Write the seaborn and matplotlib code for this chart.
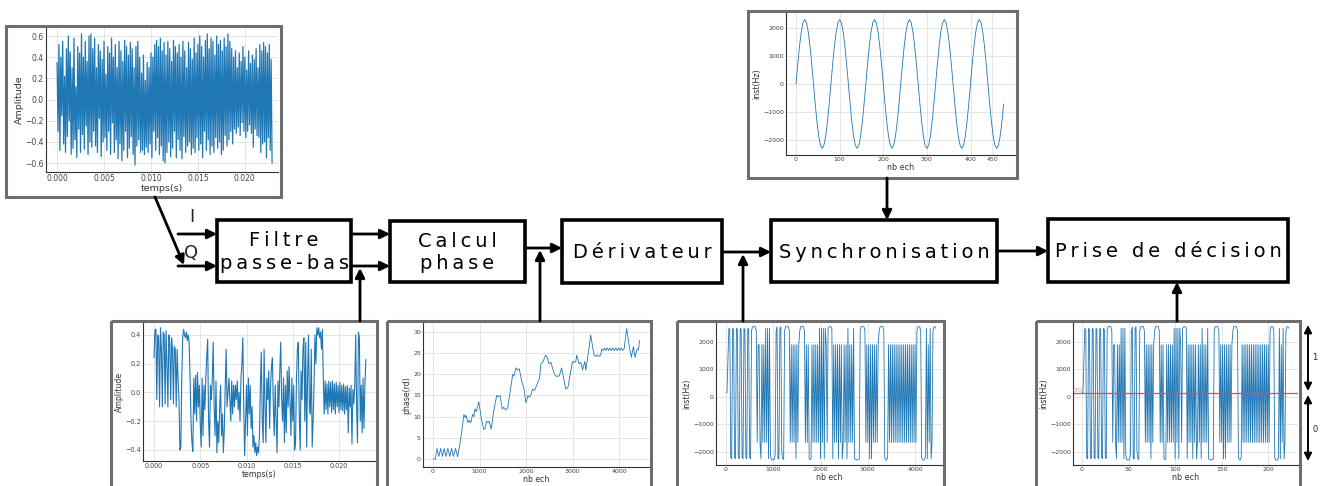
import numpy as np
import pandas as pd
import seaborn as sns
import matplotlib.pyplot as plt
from matplotlib.patches import Rectangle

# Chaine de demodulation : valeurs

# signal I/Q en entree (pas de 1e-4 s)
iq_raw = [
    0.35, -0.30, 0.52, -0.48, 0.40, -0.15, 0.55, -0.42, 0.22, -0.50,
    0.48, -0.35, 0.60, -0.20, 0.45, -0.52, 0.30, -0.46, 0.58, -0.38,
    0.12, -0.55, 0.50, -0.28, 0.44, -0.50, 0.62, -0.33, 0.40, -0.47,
    0.55, -0.25, 0.36, -0.52, 0.60, -0.40, 0.62, -0.45, 0.48, -0.30,
    0.58, -0.44, 0.30, -0.50, 0.52, -0.18, 0.46, -0.54, 0.38, -0.40,
    0.55, -0.36, 0.24, -0.48, 0.50, -0.30, 0.44, -0.52, 0.58, -0.22,
    0.40, -0.50, 0.52, -0.38, 0.30, -0.56, 0.55, -0.42, 0.46, -0.58,
    0.36, -0.48, 0.56, -0.30, 0.50, -0.55, 0.42, -0.46, 0.54, -0.35,
    0.48, -0.52, 0.30, -0.62, 0.50, -0.44, 0.55, -0.38, 0.40, -0.50,
    0.25, -0.48, 0.42, -0.52, 0.18, -0.45, 0.35, -0.50, 0.30, -0.42,
    0.44, -0.55, 0.40, -0.30, 0.52, -0.48, 0.56, -0.36, 0.50, -0.52,
    0.58, -0.44, 0.46, -0.58, 0.54, -0.60, 0.42, -0.50, 0.55, -0.40,
    0.48, -0.54, 0.36, -0.46, 0.56, -0.30, 0.50, -0.55, 0.44, -0.38,
    0.52, -0.48, 0.40, -0.56, 0.55, -0.35, 0.46, -0.50, 0.30, -0.44,
    0.54, -0.40, 0.48, -0.52, 0.38, -0.46, 0.58, -0.50, 0.44, -0.36,
    0.52, -0.48, 0.60, -0.42, 0.50, -0.55, 0.40, -0.30, 0.56, -0.48,
    0.62, -0.38, 0.48, -0.52, 0.58, -0.44, 0.55, -0.50, 0.42, -0.36,
    0.60, -0.46, 0.52, -0.40, 0.56, -0.52, 0.46, -0.48, 0.58, -0.34,
    0.50, -0.44, 0.62, -0.38, 0.55, -0.30, 0.48, -0.42, 0.40, -0.28,
    0.46, -0.32, 0.30, -0.26, 0.44, -0.34, 0.36, -0.22, 0.50, -0.30,
    0.40, -0.36, 0.28, -0.30, 0.46, -0.24, 0.34, -0.32, 0.42, -0.45,
    0.38, -0.28, 0.48, -0.34, 0.30, -0.36, 0.52, -0.50, 0.46, -0.42,
    0.54, -0.40, 0.50, -0.55, 0.44, -0.36, 0.52, -0.48, 0.38, -0.60,
]

# signal apres filtre passe-bas (pas de 1e-4 s)
iq_filt = [
    0.24, 0.43, 0.44, -0.05, 0.40, 0.38, -0.10, 0.45, 0.30, -0.10,
    0.42, 0.40, -0.08, 0.43, 0.20, -0.10, 0.40, 0.35, -0.05, 0.38,
    0.30, -0.08, 0.32, 0.30, -0.10, 0.30, 0.10, -0.05, -0.40, -0.38,
    0.10, 0.38, 0.44, 0.40, 0.38, 0.42, 0.36, 0.40, 0.35, 0.10,
    -0.20, -0.35, -0.41, 0.10, -0.15, 0.12, -0.20, 0.14, -0.10, 0.05,
    -0.22, -0.38, 0.10, -0.30, 0.05, -0.12, 0.10, 0.25, 0.37, -0.20,
    -0.38, 0.05, -0.05, 0.10, 0.35, -0.10, -0.30, 0.08, -0.42, -0.20,
    -0.35, -0.10, 0.05, -0.30, -0.15, -0.42, -0.25, 0.05, 0.30, -0.10,
    0.00, 0.10, -0.05, -0.20, 0.08, -0.15, 0.05, -0.10, 0.05, -0.05,
    0.08, -0.12, 0.00, -0.20, 0.10, 0.20, 0.38, -0.10, -0.44, -0.20,
    0.05, -0.30, 0.10, -0.15, 0.05, -0.25, -0.10, -0.38, -0.30, -0.42,
    -0.35, -0.44, -0.38, -0.42, -0.30, 0.05, 0.28, -0.20, -0.35, 0.30,
    -0.10, -0.35, 0.10, -0.05, 0.15, -0.25, 0.05, 0.18, 0.24, -0.10,
    -0.30, 0.05, -0.20, -0.42, 0.08, -0.10, 0.15, 0.35, -0.05, -0.20,
    0.10, -0.35, 0.05, -0.28, 0.15, -0.10, 0.18, -0.05, -0.30, 0.10,
    -0.20, 0.05, -0.40, -0.35, 0.10, 0.30, 0.35, -0.15, -0.40, 0.15,
    -0.05, 0.30, 0.38, -0.20, 0.35, -0.38, 0.10, 0.40, -0.10, -0.15,
    0.30, -0.38, -0.20, 0.05, 0.40, 0.20, 0.45, 0.40, 0.45, 0.38,
    0.42, 0.30, 0.44, 0.10, -0.15, 0.08, -0.12, 0.06, -0.15, 0.08,
    -0.10, 0.07, -0.14, 0.08, -0.12, 0.06, -0.15, 0.07, -0.10, 0.05,
    -0.14, 0.07, -0.12, 0.05, -0.13, 0.06, -0.15, 0.04, -0.12, 0.05,
    -0.28, 0.03, -0.10, 0.05, -0.36, 0.02, -0.08, 0.05, 0.40, -0.10,
    -0.35, 0.42, 0.38, -0.20, 0.05, -0.28, 0.10, -0.25, 0.05, 0.23,
]

# phase (rd) en fonction du numero d'echantillon
phase_ech = [
    0, 50, 85, 125, 165, 205, 240, 280, 320, 360, 400, 440, 485, 530, 600,
    665, 690, 710, 750, 780, 800, 820, 850, 880, 900, 930, 960, 985, 1040,
    1090, 1120, 1150, 1180, 1210, 1250, 1310, 1370, 1400, 1440, 1490, 1520,
    1560, 1605, 1660, 1715, 1740, 1785, 1820, 1855, 1915, 1950, 2000, 2040,
    2070, 2110, 2140, 2180, 2200, 2250, 2290, 2320, 2360, 2420, 2460, 2490,
    2535, 2570, 2610, 2650, 2715, 2765, 2810, 2855, 2905, 2950, 3000, 3040,
    3070, 3090, 3140, 3180, 3215, 3265, 3285, 3340, 3390, 3440, 3465, 3500,
    3530, 3560, 3605, 3630, 3660, 3690, 3720, 3750, 3780, 3810, 3840, 3870,
    3900, 3930, 3960, 3990, 4020, 4050, 4080, 4110, 4165, 4215, 4265, 4310,
    4345, 4390, 4420, 4440,
]
phase_rd = [
    0, 0, 2.5, 0.6, 2.5, 0.6, 2.5, 0.6, 2.5, 0.6, 2.5, 0.6, 2.5, 0.5, 5,
    10.5, 9.8, 10.3, 8.6, 9.2, 8.6, 8.8, 10.5, 10, 11.8, 11.2, 12.5, 13.5, 9.5,
    7, 7.2, 8.9, 8.6, 8.9, 7, 11.5, 15, 14.7, 15, 11.8, 12.2,
    11.6, 12, 16, 20, 19.6, 21.5, 21, 21.3, 18, 17, 13.2, 15,
    14.6, 15.2, 16.5, 16.2, 16.6, 18, 19, 22.5, 22.8, 24.5, 24, 22.5,
    22.8, 21.5, 20, 19.5, 19.6, 21.5, 19, 16.5, 17, 20, 23, 22.8,
    23, 24.5, 22.5, 22.8, 21, 23, 21, 25, 29.3, 26, 24.5, 24.2,
    24.6, 24.2, 24.5, 26, 25.6, 26.2, 25.6, 26.2, 25.6, 26.2, 25.6, 26.2,
    25.6, 26.2, 25.6, 26.2, 25.6, 26.2, 25.6, 26, 30.8, 27, 24, 26.5,
    24, 26, 25.8, 28,
]

# frequence instantanee apres derivation (un point tous les 20 echantillons)
freq_inst = [
    150, 160, 1400,
    2500, 2450, -2200, -2250, 2500, 2450, -2200, -2250, 2500, 2450, -2200, -2250,
    2500, 2450, -2200, -2250, 2500, 2450, -2200, -2250, 2500, 2450, -2200, -2250,
    2400, 2550, 2560, 2560, 2550, 2400,
    -1650, 1900, 1900, -1650, -2250, 1900, -1650, 1900, -1650, 2500, -1650, 2500, -2250, 2500,
    -2100, -2270, -2290, -2290, -2270, -2100, 2400,
    2550, -2250, -2250, 2500, 2550, -2000, -2250, -2270,
    2400, 2550, 2560, 2560, 2550, 2400,
    -1650, 1900, -1650, 1900, -1650, 1900, -2250, 1900, -1650, 1900,
    2400, 2550, 2560, 2560, 2550, 2400, -1650,
    1900, -1650, 1900, -2250, -2280, -2250, 1900, -1650, 1900, -1650, 1900, -1650, 1900, -1650,
    2500, -2250, 2500, -1650, 2500, -2250, 2500, 1900, -1650, 2500, 2550, 2560, 2550, 2500,
    -2250, 1900, -1650, 1900,
    -1650, 1900, -2250, 1900, -1650, 1900, -2250, -1650, 1900, -1650, 1900, -2250, 2500,
    -1650, 1900, -1650, 1900, -1650,
    2500, -2250, -2270, -2290, -2290, -2270, -2250,
    2400, 2550, 2560, 2560, 2550, 2400, -1650,
    1900, -1650, 1900, -2250, 1900, -2250, 1900, -1650, 1900, -1650, 1900, -1650, 1900, 2400,
    2550, 2560, 2560, 2550, 2400,
    -2200, -2290, -2290, -2200,
    1900, -1650, 1900, -1650, 1900, -1650, 1900, -1650, 1900, -1650,
    1900, -1650, 1900, -1650, 1900, -1650, 1900, -1650, 1900, -1650,
    1900, -1650, 1900, -1650, 1900, -1650, 1900, -1650, 1900, -1650,
    2400, 2550, 2560, 2550, 2400,
    -2200, -2290, -2290, -2290, -2200,
    2500, -2250, 1900, -1650, 2500, -2250, -1650, 2400, 2550, 2560, 2500,
]

# sinusoide de synchronisation (un point tous les 4 echantillons)
sync_inst = [
    0, 711, 1352, 1861, 2187, 2300, 2187, 1861, 1352, 711,
    0, -711, -1352, -1861, -2187, -2300, -2187, -1861, -1352, -711,
    0, 711, 1352, 1861, 2187, 2300, 2187, 1861, 1352, 711,
    0, -711, -1352, -1861, -2187, -2300, -2187, -1861, -1352, -711,
    0, 711, 1352, 1861, 2187, 2300, 2187, 1861, 1352, 711,
    0, -711, -1352, -1861, -2187, -2300, -2187, -1861, -1352, -711,
    0, 711, 1352, 1861, 2187, 2300, 2187, 1861, 1352, 711,
    0, -711, -1352, -1861, -2187, -2300, -2187, -1861, -1352, -711,
    0, 711, 1352, 1861, 2187, 2300, 2187, 1861, 1352, 711,
    0, -711, -1352, -1861, -2187, -2300, -2187, -1861, -1352, -711,
    0, 711, 1352, 1861, 2187, 2300, 2187, 1861, 1352, 711,
    0, -711, -1352, -1861, -2187, -2300, -2187, -1861, -1352, -711,
]

seuil = 130

blocs = ["Filtre\npasse-bas", "Calcul\nphase", "Dérivateur", "Synchronisation", "Prise de décision"]

W, H = 1323, 486
BLUE = "#1f77b4"

sns.set_theme(style="whitegrid", rc={"grid.color": "#e2e2e2", "grid.linewidth": 0.6})
plt.rcParams["font.family"] = ["DejaVu Sans"]

fig = plt.figure(figsize=(W / 100, H / 100), dpi=100)


def px_axes(l, t, r, b):
    return fig.add_axes([l / W, 1 - b / H, (r - l) / W, (b - t) / H])


def habille(ax, xlabel, ylabel, tick_fs, lab_fs):
    ax.tick_params(labelsize=tick_fs, pad=1.5, length=0, colors="#444444")
    ax.set_xlabel(xlabel, fontsize=lab_fs, labelpad=1, color="#333333")
    ax.set_ylabel(ylabel, fontsize=lab_fs, labelpad=1, color="#333333")
    sns.despine(ax=ax)
    for side in ["left", "bottom"]:
        ax.spines[side].set_color("#333333")
        ax.spines[side].set_linewidth(0.8)


# entree I/Q
ax1 = px_axes(46, 28, 278, 172)
t_raw = np.arange(len(iq_raw)) * 1e-4
sns.lineplot(x=t_raw, y=iq_raw, ax=ax1, color=BLUE, linewidth=0.9)
ax1.set_xlim(-0.00118, 0.02353)
ax1.set_ylim(-0.685, 0.676)
ax1.set_xticks([0, 0.005, 0.01, 0.015, 0.02])
ax1.set_xticklabels(["0.000", "0.005", "0.010", "0.015", "0.020"])
ax1.set_yticks([-0.6, -0.4, -0.2, 0, 0.2, 0.4, 0.6])
habille(ax1, "temps(s)", "Amplitude", 5.5, 6.8)

# synchronisation
ax2 = px_axes(786, 12, 1015, 155)
n_sync = np.arange(len(sync_inst)) * 4
sns.lineplot(x=n_sync, y=sync_inst, ax=ax2, color=BLUE, linewidth=0.6)
ax2.set_xlim(-23, 502)
ax2.set_ylim(-2536, 2571)
ax2.set_xticks([0, 100, 200, 300, 400, 450])
ax2.set_yticks([-2000, -1000, 0, 1000, 2000])
habille(ax2, "nb ech", "inst(Hz)", 4.5, 5.8)

# apres filtre
ax3 = px_axes(143, 323, 375, 461)
t_filt = np.arange(len(iq_filt)) * 1e-4
sns.lineplot(x=t_filt, y=iq_filt, ax=ax3, color=BLUE, linewidth=0.8)
ax3.set_xlim(-0.00119, 0.02389)
ax3.set_ylim(-0.477, 0.483)
ax3.set_xticks([0, 0.005, 0.01, 0.015, 0.02])
ax3.set_xticklabels(["0.000", "0.005", "0.010", "0.015", "0.020"])
ax3.set_yticks([-0.4, -0.2, 0, 0.2, 0.4])
habille(ax3, "temps(s)", "Amplitude", 4.7, 5.6)

# phase
ax4 = px_axes(423, 323, 649, 467)
sns.lineplot(x=phase_ech, y=phase_rd, ax=ax4, color=BLUE, linewidth=0.6)
ax4.set_xlim(-215, 4645)
ax4.set_ylim(-1.89, 32.1)
ax4.set_xticks([0, 1000, 2000, 3000, 4000])
ax4.set_yticks([0, 5, 10, 15, 20, 25, 30])
habille(ax4, "nb ech", "phase(rd)", 4.5, 5.6)

# derivee
ax5 = px_axes(716, 323, 942, 465)
n_freq = np.arange(len(freq_inst)) * 20
sns.lineplot(x=n_freq, y=freq_inst, ax=ax5, color=BLUE, linewidth=0.6)
ax5.set_xlim(-212, 4571)
ax5.set_ylim(-2473, 2691)
ax5.set_xticks([0, 1000, 2000, 3000, 4000])
ax5.set_yticks([-2000, -1000, 0, 1000, 2000])
habille(ax5, "nb ech", "inst(Hz)", 4.5, 5.6)

# decision
ax6 = px_axes(1073, 323, 1298, 465)
sns.lineplot(x=np.arange(len(freq_inst)), y=freq_inst, ax=ax6, color=BLUE, linewidth=0.6)
ax6.axhline(seuil, color="#f04848", linewidth=0.9)
ax6.set_xlim(-9.7, 232)
ax6.set_ylim(-2473, 2691)
ax6.set_xticks([0, 50, 100, 150, 200])
ax6.set_yticks([-2000, -1000, 0, 1000, 2000])
habille(ax6, "nb ech", "inst(Hz)", 4.5, 5.8)

# schema bloc par dessus
bg = fig.add_axes([0, 0, 1, 1], zorder=10)
bg.set_xlim(0, W)
bg.set_ylim(H, 0)
bg.axis("off")

for (x0, y0, x1, y1) in [(6, 26, 281, 197), (748, 11, 1017, 178), (111, 321, 377, 500),
                         (387, 321, 651, 500), (677, 321, 944, 500), (1036, 321, 1300, 500)]:
    bg.add_patch(Rectangle((x0, y0), x1 - x0, y1 - y0, fill=False, edgecolor="#6e6e6e", linewidth=2.2))

boites = [(217, 220, 351, 282), (390, 221, 525, 282), (562, 220, 722, 283),
          (771, 220, 997, 282), (1048, 219, 1288, 282)]
for (x0, y0, x1, y1), nom in zip(boites, blocs):
    bg.add_patch(Rectangle((x0, y0), x1 - x0, y1 - y0, facecolor="white", edgecolor="black", linewidth=2.6))
    lignes = ["\u2009".join(l) for l in nom.split("\n")]
    bg.text((x0 + x1) / 2, (y0 + y1) / 2 + 1, "\n".join(lignes), ha="center", va="center",
            fontsize=14, linespacing=1.25, color="black")

fleche = dict(arrowstyle="-|>,head_length=0.5,head_width=0.25", color="black", lw=2,
              mutation_scale=11, shrinkA=0, shrinkB=0)
for a, b in [((178, 234), (217, 234)), ((178, 266), (217, 266)), ((155, 197), (184, 265)),
             ((351, 234), (390, 234)), ((351, 266), (390, 266)), ((360, 321), (360, 268)),
             ((525, 248), (562, 248)), ((540, 321), (540, 250)), ((722, 252), (771, 252)),
             ((743, 321), (743, 254)), ((887, 178), (887, 220)), ((997, 251), (1048, 251)),
             ((1177, 321), (1177, 282))]:
    bg.annotate("", xy=b, xytext=a, arrowprops=fleche)

bg.text(192, 217, "I", ha="center", va="center", fontsize=13)
bg.text(191, 253, "Q", ha="center", va="center", fontsize=13)

double = dict(arrowstyle="<|-|>,head_length=0.5,head_width=0.25", color="black", lw=1.4,
              mutation_scale=9, shrinkA=0, shrinkB=0)
bg.annotate("", xy=(1308, 325), xytext=(1308, 391), arrowprops=double)
bg.annotate("", xy=(1308, 395), xytext=(1308, 461), arrowprops=double)
bg.text(1315, 357, "1", ha="center", va="center", fontsize=6)
bg.text(1315, 429, "0", ha="center", va="center", fontsize=6)
bg.text(1078, 390, "CFO", ha="center", va="center", fontsize=3.5, color="#f04848", alpha=0.7)

fig.savefig("out.png", dpi=100, facecolor="white")
